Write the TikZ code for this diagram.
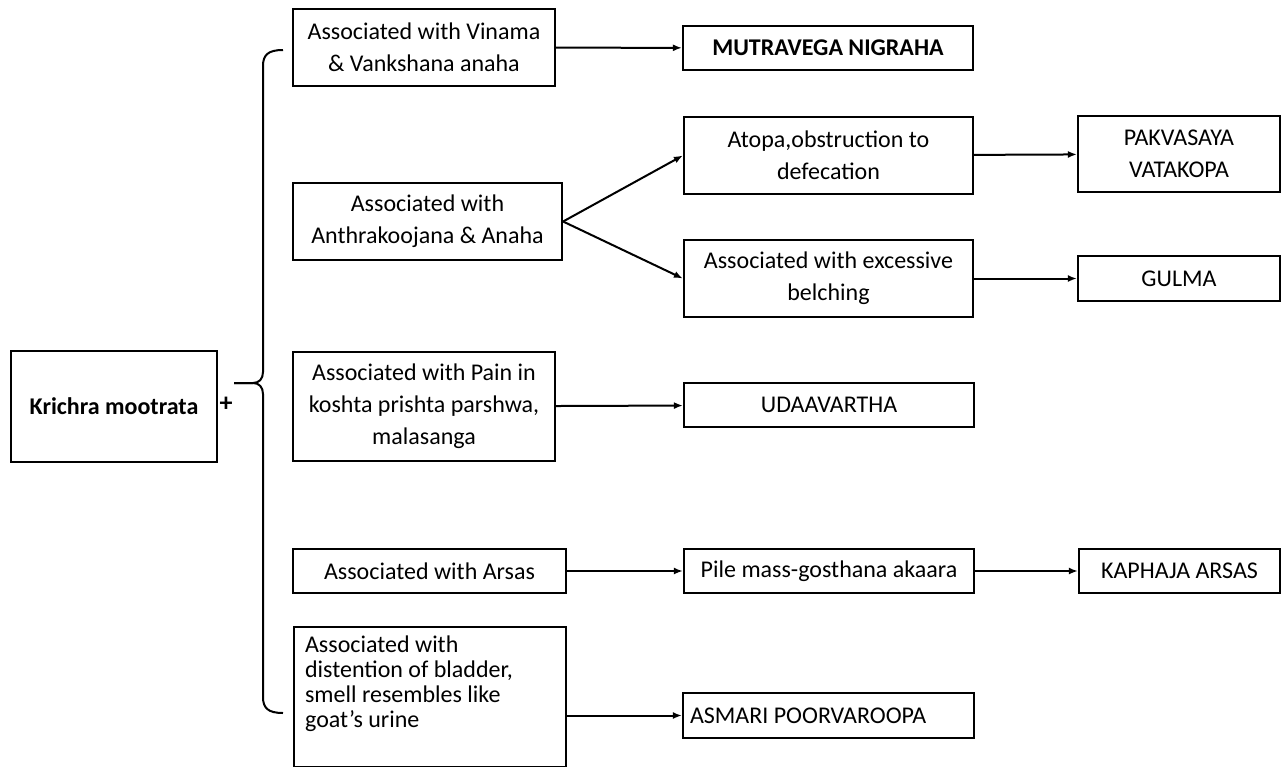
\documentclass[tikz,border=0pt]{standalone}
\usepackage{fontspec}
\setmainfont{Carlito}
\usetikzlibrary{arrows.meta}

\begin{document}
\begin{tikzpicture}[x=0.5pt, y=-0.5pt,
        box/.style={draw, line width=1.1pt, align=center, inner sep=2pt, font=\fontsize{12}{16}\selectfont},
        boldbox/.style={box, font=\bfseries\fontsize{12}{16}\selectfont},
        arr/.style={line width=1pt, -{Latex[length=4.5pt,width=3.5pt]}}]
                \useasboundingbox (0,0) rectangle (1282,767);
                \node[boldbox, minimum width=103pt, minimum height=55.5pt] (krichra) at (114,406.5) {Krichra mootrata};
                \node[font=\bfseries\fontsize{13}{16}\selectfont, inner sep=0pt] (plus) at (226,404) {+};
                \coordinate (bracetip) at (234,383);
                \draw[line width=1pt] (283,50) .. controls (268,50) and (263,55) .. (263,66) -- (263,372)
                        .. controls (263,379) and (259,383) .. (253,383) -- (bracetip);
                \draw[line width=1pt] (bracetip) -- (253,383) .. controls (259,383) and (263,387) .. (263,394)
                        -- (263,697) .. controls (263,708) and (268,713) .. (283,713);
                \node[box, minimum width=131pt, minimum height=38.5pt] (vinama) at (424,47.5) {Associated with Vinama\\ \& Vankshana anaha};
                \node[boldbox, minimum width=145pt, minimum height=22pt] (mutra) at (828,48) {MUTRAVEGA NIGRAHA};
                \node[box, minimum width=134.5pt, minimum height=38.5pt] (anthra) at (427.5,221.5) {Associated with\\ Anthrakoojana \& Anaha};
                \node[box, minimum width=144.5pt, minimum height=38.5pt] (atopa) at (828.5,155.5) {Atopa,obstruction to\\ defecation};
                \node[box, minimum width=144.5pt, minimum height=38.5pt] (belch) at (828.5,278.5) {Associated with excessive\\ belching};
                \node[box, minimum width=101pt, minimum height=38pt] (pakva) at (1179,154) {PAKVASAYA\\ VATAKOPA};
                \node[box, minimum width=101pt, minimum height=22.5pt] (gulma) at (1179,278.5) {GULMA};
                \node[box, minimum width=131pt, minimum height=54.5pt] (pain) at (424,406.5) {Associated with Pain in\\ koshta prishta parshwa,\\ malasanga};
                \node[box, minimum width=145pt, minimum height=22pt] (udaa) at (829,405) {UDAAVARTHA};
                \node[box, minimum width=136.5pt, minimum height=22pt] (arsas) at (429.5,571) {Associated with Arsas};
                \node[box, minimum width=145pt, minimum height=22pt] (pile) at (829,571) {Pile mass-gosthana akaara};
                \node[box, minimum width=100.5pt, minimum height=22pt] (kapha) at (1179.5,571) {KAPHAJA ARSAS};
                \node[box, anchor=north west, align=flush left, text width=125pt, inner xsep=5.5pt, inner ysep=4.25pt,
                        text depth=53pt, font=\fontsize{12}{12.5}\selectfont] (bladder) at (293,626)
                        {Associated with\\ distention of bladder,\\ smell resembles like\\ goat’s urine};
                \node[box, align=flush left, text width=138.5pt, inner xsep=3.5pt, minimum height=22.5pt] (asmari) at (828.5,715.5) {ASMARI POORVAROOPA};
                \draw[arr] (vinama) -- (mutra);
                \draw[arr] (anthra.east) -- (atopa.west);
                \draw[arr] (anthra.east) -- (belch.west);
                \draw[arr] (atopa) -- (pakva);
                \draw[arr] (belch) -- (gulma);
                \draw[arr] (pain) -- (udaa);
                \draw[arr] (arsas) -- (pile);
                \draw[arr] (pile) -- (kapha);
                \draw[arr] (bladder.east |- asmari.west) -- (asmari.west);
            \end{tikzpicture}
\end{document}
